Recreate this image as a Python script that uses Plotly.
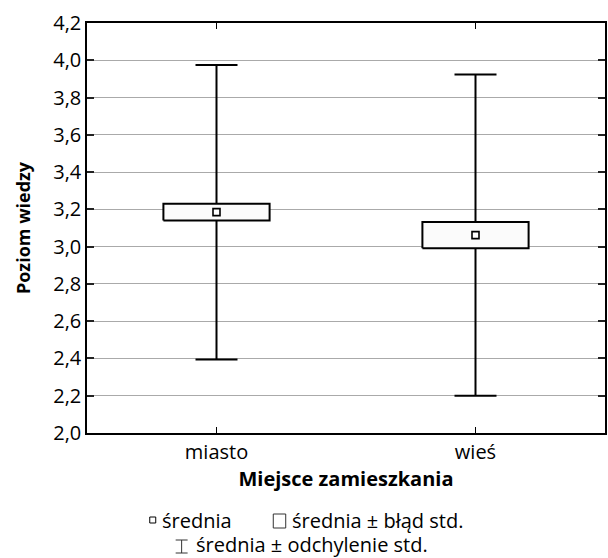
import plotly.graph_objects as go

# Data: knowledge level by place of residence
categories = ["miasto", "wieś"]
means = [3.185, 3.062]
std_errors = [0.045, 0.070]
std_devs = [0.790, 0.862]

y_ticks = [2.0, 2.2, 2.4, 2.6, 2.8, 3.0, 3.2, 3.4, 3.6, 3.8, 4.0, 4.2]
y_tick_text = [f"{v:.1f}".replace(".", ",") for v in y_ticks]

FONT = "Open Sans"
TXT = 20
BOX_HALF = 0.205
xpos = list(range(len(categories)))

fig = go.Figure()

# whiskers: mean ± standard deviation
fig.add_trace(go.Scatter(
    x=xpos, y=means, mode="markers",
    marker=dict(size=1, color="rgba(0,0,0,0)"),
    error_y=dict(type="data", array=std_devs, symmetric=True,
                 color="black", thickness=2, width=21),
    showlegend=False, hoverinfo="skip",
))

# boxes: mean ± standard error
for i, (m, se) in enumerate(zip(means, std_errors)):
    fig.add_trace(go.Scatter(
        x=[i - BOX_HALF, i + BOX_HALF, i + BOX_HALF, i - BOX_HALF, i - BOX_HALF],
        y=[m - se, m - se, m + se, m + se, m - se],
        mode="lines", fill="toself", fillcolor="#fbfbfb",
        line=dict(color="black", width=2),
        showlegend=False, hoverinfo="skip",
    ))

# mean markers
fig.add_trace(go.Scatter(
    x=xpos, y=means, mode="markers",
    marker=dict(symbol="square", size=7, color="white",
                line=dict(color="black", width=1.6)),
    showlegend=False,
))

L, R, T, B = 87, 1, 23, 125
W, H = 608, 558
pw, ph = W - L - R, H - T - B


def px(x):
    return (x - L) / pw


def py(y):
    return (H - B - y) / ph


# legend beneath the chart
shapes = [
    dict(type="rect", xref="paper", yref="paper",
         x0=px(150), x1=px(156), y0=py(523), y1=py(517),
         line=dict(color="black", width=1), fillcolor="white"),
    dict(type="rect", xref="paper", yref="paper",
         x0=px(274), x1=px(286.5), y0=py(528), y1=py(514),
         line=dict(color="#333", width=1), fillcolor="white"),
    dict(type="line", xref="paper", yref="paper",
         x0=px(182), x1=px(182), y0=py(553), y1=py(540),
         line=dict(color="#333", width=1)),
    dict(type="line", xref="paper", yref="paper",
         x0=px(176), x1=px(188), y0=py(540), y1=py(540),
         line=dict(color="#333", width=1)),
    dict(type="line", xref="paper", yref="paper",
         x0=px(176), x1=px(188), y0=py(553), y1=py(553),
         line=dict(color="#333", width=1)),
]

annotations = [
    dict(text="średnia", x=px(160), y=py(520), xref="paper", yref="paper",
         xanchor="left", yanchor="middle", showarrow=False,
         font=dict(family=FONT, size=TXT, color="black")),
    dict(text="średnia ± błąd std.", x=px(291), y=py(520), xref="paper", yref="paper",
         xanchor="left", yanchor="middle", showarrow=False,
         font=dict(family=FONT, size=TXT, color="black")),
    dict(text="średnia ± odchylenie std.", x=px(194), y=py(544), xref="paper", yref="paper",
         xanchor="left", yanchor="middle", showarrow=False,
         font=dict(family=FONT, size=TXT, color="black")),
]

fig.update_layout(
    width=W, height=H,
    margin=dict(l=L, r=R, t=T, b=B),
    paper_bgcolor="white", plot_bgcolor="white",
    font=dict(family=FONT, size=TXT, color="black"),
    showlegend=False,
    shapes=shapes,
    annotations=annotations,
    xaxis=dict(
        range=[-0.5, 1.5], tickvals=xpos, ticktext=categories,
        showgrid=False, zeroline=False,
        showline=True, linecolor="black", linewidth=1.5, mirror="allticks",
        ticks="inside", ticklen=6, tickcolor="black", tickwidth=1,
        tickfont=dict(family=FONT, size=TXT),
        title=dict(text="<b>Miejsce zamieszkania</b>", standoff=7,
                   font=dict(family=FONT, size=TXT)),
    ),
    yaxis=dict(
        range=[2.0, 4.2], tickvals=y_ticks, ticktext=y_tick_text,
        showgrid=True, gridcolor="#aaaaaa", gridwidth=1, zeroline=False,
        showline=True, linecolor="black", linewidth=1.5, mirror="allticks",
        ticks="inside", ticklen=7, tickcolor="#222", tickwidth=1.5,
        tickfont=dict(family=FONT, size=TXT),
        title=dict(text="<b>Poziom wiedzy</b>", standoff=18,
                   font=dict(family=FONT, size=18)),
    ),
)

fig.write_html("out.html")
